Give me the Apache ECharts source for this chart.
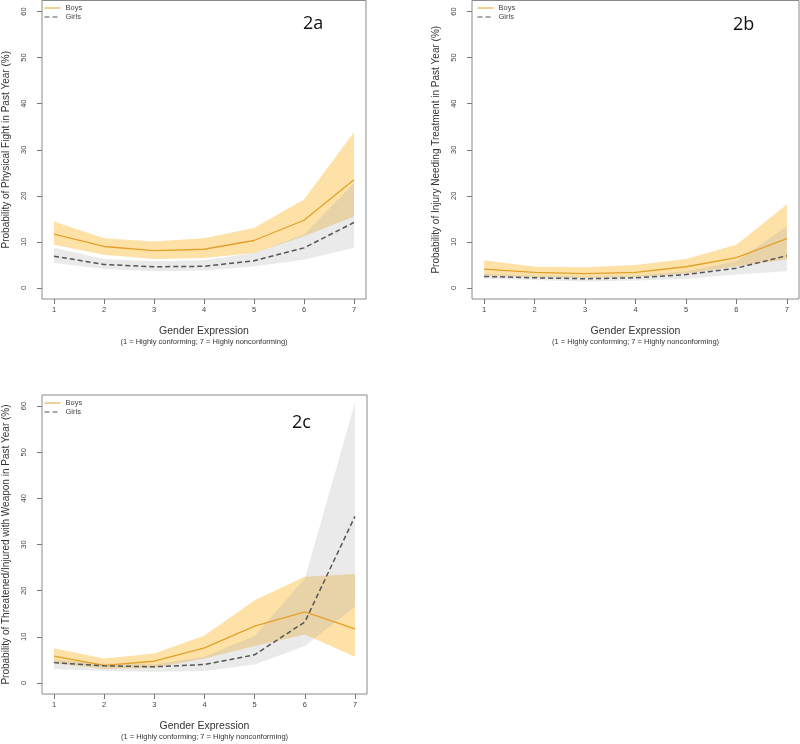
<!DOCTYPE html>
<html>
<head>
<meta charset="utf-8">
<script src="https://cdn.jsdelivr.net/npm/echarts@6/dist/echarts.min.js"></script>
<style>html,body{margin:0;padding:0;background:#fff}#c{width:800px;height:744px}</style>
</head>
<body>
<div id="c"></div>
<script>
// ---- data ----
const xCats = [1, 2, 3, 4, 5, 6, 7];
const yTicks = [0, 10, 20, 30, 40, 50, 60];
const panelLabels = ['2a', '2b', '2c'];
const yTitles = [
  'Probability of Physical Fight in Past Year (%)',
  'Probability of Injury Needing Treatment in Past Year (%)',
  'Probability of Threatened/Injured with Weapon in Past Year (%)'
];
const xTitle = 'Gender Expression';
const xSubtitle = '(1 = Highly conforming; 7 = Highly nonconforming)';

// 2a
const boysA = [11.7, 9.0, 8.1, 8.4, 10.3, 14.7, 23.5];
const boysA_lo = [9.4, 7.2, 6.3, 6.5, 7.6, 11.2, 15.5];
const boysA_hi = [14.4, 10.8, 10.1, 10.8, 13.0, 19.2, 33.8];
const girlsA = [6.9, 5.1, 4.6, 4.7, 5.9, 8.7, 14.2];
const girlsA_lo = [5.4, 4.1, 3.6, 3.8, 4.7, 6.1, 8.7];
const girlsA_hi = [8.7, 6.3, 5.8, 6.0, 7.6, 11.6, 22.8];
// 2b
const boysB = [4.1, 3.4, 3.1, 3.4, 4.6, 6.6, 10.7];
const boysB_lo = [2.7, 2.4, 2.2, 2.4, 3.1, 4.7, 6.2];
const boysB_hi = [6.0, 4.6, 4.5, 5.0, 6.3, 9.4, 18.1];
const girlsB = [2.5, 2.2, 2.0, 2.2, 2.9, 4.3, 7.0];
const girlsB_lo = [2.0, 1.7, 1.4, 1.6, 2.0, 2.9, 3.6];
const girlsB_hi = [3.1, 2.7, 2.5, 2.7, 3.6, 5.8, 13.4];
// 2c
const boysC = [5.8, 3.8, 4.7, 7.6, 12.3, 15.4, 11.7];
const boysC_lo = [4.3, 3.0, 3.3, 5.3, 8.0, 10.5, 5.7];
const boysC_hi = [7.5, 5.3, 6.4, 10.3, 17.9, 23.0, 23.6];
const girlsC = [4.4, 3.7, 3.5, 4.0, 6.1, 13.2, 36.1];
const girlsC_lo = [3.0, 2.6, 2.4, 2.6, 4.0, 8.0, 16.5];
const girlsC_hi = [5.1, 4.2, 4.0, 5.7, 10.2, 22.6, 60.7];

// ---- styles ----
const ORANGE = '#E3A02C';
const ORANGE_BAND = 'rgba(252,196,80,0.5)';
const GRAY_BAND = 'rgba(170,170,170,0.25)';
const GIRL_LINE = '#555555';
const FONT = '"Liberation Sans", Arial, sans-serif';

const panels = [
  {b: boysA, bl: boysA_lo, bh: boysA_hi, g: girlsA, gl: girlsA_lo, gh: girlsA_hi,
   grid: {left: 39, top: 0.5, width: 327, height: 298.5}, label: {left: 303, top: 15}, legend: {left: 44, top: 4}},
  {b: boysB, bl: boysB_lo, bh: boysB_hi, g: girlsB, gl: girlsB_lo, gh: girlsB_hi,
   grid: {left: 472, top: 0.5, width: 327, height: 298.5}, label: {left: 733, top: 16}, legend: {left: 477, top: 4}},
  {b: boysC, bl: boysC_lo, bh: boysC_hi, g: girlsC, gl: girlsC_lo, gh: girlsC_hi,
   grid: {left: 39, top: 395, width: 328, height: 299}, label: {left: 292, top: 414}, legend: {left: 44, top: 399}}
];

const pairs = (arr) => xCats.map((x, i) => [x, arr[i]]);
const triples = (lo, hi) => xCats.map((x, i) => [x, lo[i], hi[i]]);

function bandSeries(k, lo, hi, color, name) {
  const data = triples(lo, hi);
  return {
    type: 'custom', name: name, xAxisIndex: k, yAxisIndex: k, silent: true,
    data: data,
    encode: {x: 0, y: [1, 2]},
    renderItem: function (params, api) {
      if (params.dataIndex !== 0) return null;
      const upper = data.map(d => api.coord([d[0], d[2]]));
      const lower = data.map(d => api.coord([d[0], d[1]])).reverse();
      return {
        type: 'polygon',
        shape: {points: upper.concat(lower)},
        style: {fill: color, stroke: null}
      };
    }
  };
}

const grids = [], xAxes = [], yAxes = [], series = [], titles = [], legends = [];

panels.forEach((p, k) => {
  grids.push(Object.assign({show: true, borderColor: '#8a8a8a', borderWidth: 1, backgroundColor: 'transparent'}, p.grid));
  xAxes.push({
    type: 'value', gridIndex: k, min: 0.76, max: 7.24,
    axisLine: {show: false, onZero: false},
    splitLine: {show: false},
    axisTick: {show: true, length: 5, lineStyle: {color: '#777'}, customValues: xCats},
    axisLabel: {customValues: xCats, color: '#444', fontSize: 7.5, fontFamily: FONT, margin: 7},
    name: '{a|' + xTitle + '}\n{b|' + xSubtitle + '}',
    nameLocation: 'middle', nameGap: 26,
    nameTextStyle: {
      rich: {
        a: {fontSize: 10.5, color: '#333', fontFamily: FONT, lineHeight: 12, align: 'center'},
        b: {fontSize: 7.5, color: '#333', fontFamily: FONT, lineHeight: 10, align: 'center'}
      }
    }
  });
  yAxes.push({
    type: 'value', gridIndex: k, min: -2.4, max: 62.4,
    axisLine: {show: false, onZero: false},
    splitLine: {show: false},
    axisTick: {show: true, length: 5, lineStyle: {color: '#777'}, customValues: yTicks},
    axisLabel: {customValues: yTicks, color: '#444', fontSize: 7.5, fontFamily: FONT, rotate: 90, margin: 14},
    name: yTitles[k], nameLocation: 'middle', nameGap: 31, nameRotate: 90,
    nameTextStyle: {fontSize: 10, color: '#333', fontFamily: FONT}
  });
  titles.push({text: panelLabels[k], left: p.label.left, top: p.label.top, padding: 0,
    textStyle: {fontSize: 18, fontWeight: 'normal', color: '#111', fontFamily: '"Open Sans", "Liberation Sans", sans-serif'}});
  legends.push({
    left: p.legend.left, top: p.legend.top, orient: 'vertical', itemGap: 1,
    itemWidth: 16, itemHeight: 8, data: ['Boys', 'Girls'],
    itemStyle: {opacity: 0},
    lineStyle: {width: 1},
    textStyle: {fontSize: 7.5, color: '#444', fontFamily: FONT}, padding: 0, selectedMode: false
  });
  const base = {type: 'line', xAxisIndex: k, yAxisIndex: k, symbol: 'none', silent: true, animation: false};
  series.push(bandSeries(k, p.bl, p.bh, ORANGE_BAND, 'boysBand' + k));
  series.push(bandSeries(k, p.gl, p.gh, GRAY_BAND, 'girlsBand' + k));
  series.push(Object.assign({}, base, {name: 'Boys', data: pairs(p.b), color: ORANGE, lineStyle: {color: ORANGE, width: 1.3}}));
  series.push(Object.assign({}, base, {name: 'Girls', data: pairs(p.g), color: GIRL_LINE, lineStyle: {color: GIRL_LINE, width: 1.5, type: [5, 3]}}));
});

const chart = echarts.init(document.getElementById('c'), null, {renderer: 'canvas'});
chart.setOption({
  animation: false,
  backgroundColor: '#fff',
  title: titles,
  legend: legends,
  grid: grids,
  xAxis: xAxes,
  yAxis: yAxes,
  series: series
});
</script>
</body>
</html>
